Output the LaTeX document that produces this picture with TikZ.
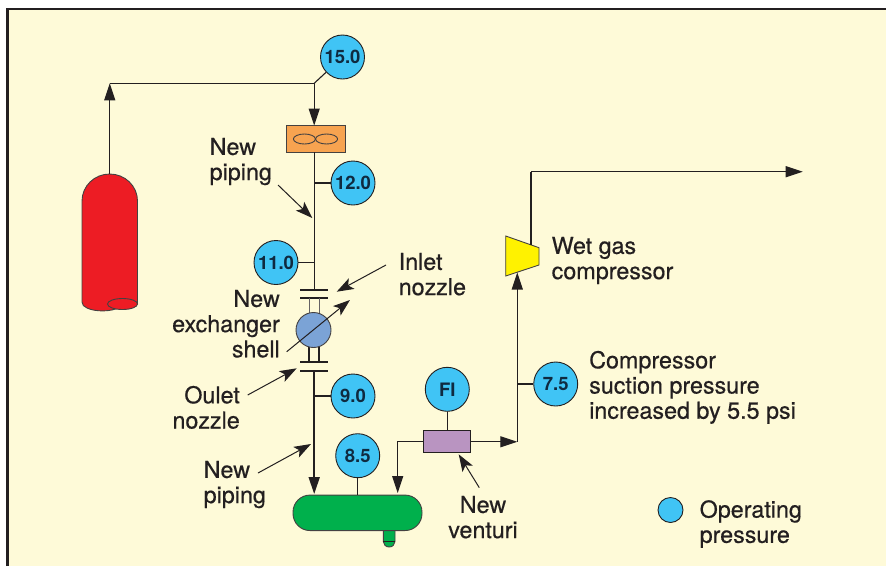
\documentclass[tikz,border=0pt]{standalone}
\usepackage{fontspec}
\setmainfont{TeX Gyre Heros}
\newfontfamily\lblfont[RawFeature={embolden=0.5}]{TeX Gyre Heros}
\usetikzlibrary{arrows.meta,shapes.geometric}
\definecolor{ink}{HTML}{231F20}
\definecolor{paper}{HTML}{FEFAD8}
\definecolor{gauge}{HTML}{40C4F5}
\definecolor{gaugetext}{HTML}{0F2A40}
\definecolor{tankred}{HTML}{ED1C24}
\definecolor{fanbox}{HTML}{F7A350}
\definecolor{vesselgreen}{HTML}{00B04C}
\definecolor{shellblue}{HTML}{7BA3D6}
\definecolor{venturi}{HTML}{B994C1}
\definecolor{compyellow}{HTML}{FFF200}
\tikzset{
  gaugenode/.style={circle,draw=ink,line width=0.9pt,fill=gauge,minimum size=44pt,inner sep=0pt,font=\fontsize{18.5}{18.5}\selectfont\bfseries,text=gaugetext},
  lbl/.style={inner sep=0pt,text=ink,font=\fontsize{23.3}{25.2}\selectfont\lblfont},
  pipe/.style={draw=ink,line width=1.1pt},
  heavy/.style={draw=ink,line width=1.9pt},
  flow/.style={pipe,-{Triangle[length=17pt,width=11pt]}},
  flowheavy/.style={heavy,-{Triangle[length=17pt,width=11pt]}},
  callout/.style={draw=ink,line width=1pt,-{Stealth[length=17pt,width=12pt,inset=4pt]}},
  equip/.style={draw=ink!85,line width=0.9pt},
}
\begin{document}
\begin{tikzpicture}[x=1pt,y=-1pt]
\useasboundingbox (0,0) rectangle (886,566);
\fill[white] (0,0) rectangle (886,566);
\fill[paper] (7.5,9) rectangle (886,566);
\draw[ink,line width=2.6pt] (7.5,566) -- (7.5,9) -- (886,9);

% tank
\path[equip,fill=tankred] (82,201) arc[start angle=180,end angle=360,x radius=27.75,y radius=27] -- (137.5,304)
  -- (120,307) .. controls (112,312) and (95,312) .. (87,308) .. controls (84,306.5) and (82,305) .. (82,302) -- cycle;
\node[equip,fill=tankred,ellipse,minimum width=30pt,minimum height=11pt,inner sep=0pt] (tankfoot) at (122.5,304) {};
\coordinate (tanktop) at (109.75,174);
\coordinate (corner1) at (109.75,83.3);
\coordinate (tee) at (314.2,83.3);

% fan box
\node[equip,fill=fanbox,minimum width=59pt,minimum height=26.5pt,inner sep=0pt] (fan) at (315.5,138.8) {};
\draw[equip] (304.4,139) ellipse[x radius=11,y radius=5];
\draw[equip] (326.6,139) ellipse[x radius=11,y radius=5];

% gauges
\node[gaugenode] (g15) at (342.5,57) {15.0};
\node[gaugenode] (g12) at (353,183) {12.0};
\node[gaugenode] (g11) at (276,262.5) {11.0};
\node[gaugenode] (g9) at (353,396) {9.0};
\node[gaugenode] (g85) at (357.7,455.7) {8.5};
\node[gaugenode] (gfi) at (447.3,389.3) {FI};
\node[gaugenode] (g75) at (555.7,384) {7.5};
\node[circle,draw=ink,line width=0.9pt,fill=gauge,minimum size=25pt,inner sep=0pt] (legend) at (670.5,510) {};

% top piping
\draw[flow] (tanktop) -- (corner1);
\draw[pipe] (corner1) -- (tee);
\draw[pipe] (tee) -- (g15);
\draw[flow] (tee) -- (314.2,125.5);

% pipe and flanges
\coordinate (fl1l) at (300,290); \coordinate (fl1r) at (328,290);
\coordinate (fl2l) at (300,298); \coordinate (fl2r) at (328,298);
\coordinate (fl3l) at (300,362); \coordinate (fl3r) at (328,362);
\coordinate (fl4l) at (300,370.7); \coordinate (fl4r) at (328,370.7);
\coordinate (j12) at (314.2,183); \coordinate (j11) at (314.2,262.5); \coordinate (j9) at (314.2,396);
\draw[pipe] (314.2,152) -- (314.2,290);
\draw[heavy,line width=1.5pt] (j12) -- (g12);
\draw[heavy,line width=1.5pt] (j11) -- (g11);
\foreach \a/\b in {fl1l/fl1r,fl2l/fl2r,fl3l/fl3r,fl4l/fl4r} \draw[ink,line width=1.6pt] (\a) -- (\b);
\draw[draw=ink!70,line width=1pt] (309,298) -- (309,316) (319,298) -- (319,316);
\draw[draw=ink,line width=1.5pt] (309,344) -- (309,362) (319,344) -- (319,362);
\node[equip,circle,fill=shellblue,minimum size=35pt,inner sep=0pt] (shell) at (313.5,330) {};
\draw[flowheavy] (314.2,370.7) -- (314.2,494);
\draw[heavy,line width=1.5pt] (j9) -- (g9);

% vessel
\draw[equip,fill=vesselgreen] (383.3,530) -- (383.3,541.5) arc[start angle=180,end angle=0,x radius=5.85,y radius=5.5] -- (395,530) -- cycle;
\draw[ink,line width=1.1pt] (383.3,541.7) -- (395,541.7);
\node[equip,fill=vesselgreen,rounded corners=17pt,minimum width=129pt,minimum height=35.5pt,inner sep=0pt] (vessel) at (357.5,512.8) {};
\draw[heavy,line width=1.4pt] (g85) -- (vessel.north -| g85);

% venturi
\node[draw=ink,line width=1.1pt,fill=venturi,minimum width=47pt,minimum height=21.3pt,inner sep=0pt] (vent) at (447.2,441.4) {};
\draw[heavy,line width=1.4pt] (gfi) -- (vent.north -| gfi);
\coordinate (vl) at (397.7,441.8);
\coordinate (vr) at (517.3,441.8);
\coordinate (j75) at (517.3,384);
\draw[flow] (vent.west |- vl) -- (vl) -- (397.7,493);
\draw[flow] (vent.east |- vr) -- (vr);
\draw[heavy,line width=1.5pt] (j75) -- (g75);

% compressor
\draw[equip,fill=compyellow] (505.7,236) -- (539,247.7) -- (539,265) -- (505.7,276) -- cycle;
\coordinate (compin) at (517.3,272.5);
\coordinate (compout) at (531,245);
\coordinate (oc) at (531,171.7);
\coordinate (oe) at (802.7,171.7);
\draw[flow] (vr) -- (compin);
\draw[pipe] (compout) -- (oc);
\draw[flow] (oc) -- (oe);

% callouts
\coordinate (a1s) at (278,185); \coordinate (a1e) at (312.3,218);
\coordinate (a2s) at (386,265); \coordinate (a2e) at (336.7,291.7);
\coordinate (a3s) at (286.7,351.7); \coordinate (a3e) at (350,300);
\coordinate (a4s) at (247.7,395); \coordinate (a4e) at (296.7,368.3);
\coordinate (a5s) at (258,473); \coordinate (a5e) at (311,444);
\coordinate (a6s) at (479.3,487.7); \coordinate (a6e) at (458.7,454.3);
\foreach \s/\e in {a1s/a1e,a2s/a2e,a3s/a3e,a4s/a4e,a5s/a5e,a6s/a6e} \draw[callout] (\s) -- (\e);

% labels
\node[lbl,anchor=north west,align=left] (t1) at (209.5,137.7) {New\\piping};
\node[lbl,anchor=north west,align=left] (t2) at (398.5,252.7) {Inlet\\nozzle};
\node[lbl,anchor=north east,align=right] (t3) at (280,289.7) {New\\exchanger\\shell};
\node[lbl,anchor=north east,align=right] (t4) at (240,385.7) {Oulet\\nozzle};
\node[lbl,anchor=north west,align=left] (t5) at (203.5,460.7) {New\\piping};
\node[lbl,anchor=north,align=center] (t6) at (483,495.7) {New\\venturi};
\node[lbl,anchor=north west,align=left] (t7) at (551.5,236.7) {Wet gas\\compressor};
\node[lbl,anchor=north west,align=left] (t8) at (589,350.7) {Compressor\\suction pressure\\increased by 5.5 psi};
\node[lbl,anchor=north west,align=left] (t9) at (699.5,500) {Operating\\pressure};
\end{tikzpicture}
\end{document}
